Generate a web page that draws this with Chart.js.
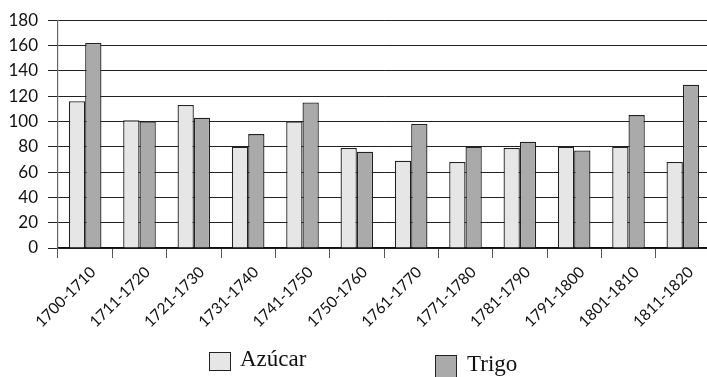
<!DOCTYPE html>
<html>
<head>
<meta charset="utf-8">
<script src="https://cdn.jsdelivr.net/npm/chart.js@4.4.1/dist/chart.umd.min.js"></script>
<style>
  body { margin: 0; background: #fff; }
  #wrap { position: relative; width: 707px; height: 377px; overflow: hidden; }
  .lg { position: absolute; font-family: "Liberation Serif", serif; font-size: 23px; color: #111; white-space: nowrap; }
  .lg span.box { position: absolute; left: 0; border: 1.5px solid #222; box-sizing: border-box; }
</style>
</head>
<body>
<div id="wrap">
  <canvas id="chart" width="710" height="377"></canvas>
  <div id="legend"></div>
</div>
<script>
const categories = ['1700-1710', '1711-1720', '1721-1730', '1731-1740', '1741-1750', '1750-1760',
  '1761-1770', '1771-1780', '1781-1790', '1791-1800', '1801-1810', '1811-1820'];
const azucar = [116, 101, 113, 80, 100, 79, 69, 68, 79, 80, 80, 68];
const trigo = [162, 100, 103, 90, 115, 76, 98, 80, 84, 77, 105, 129];
const yTicks = [0, 20, 40, 60, 80, 100, 120, 140, 160, 180];

const seriesColors = ['#e6e6e6', '#aaaaaa'];

const chart = new Chart(document.getElementById('chart'), {
  type: 'bar',
  data: {
    labels: categories,
    datasets: [
      { label: 'Azúcar', data: azucar, backgroundColor: seriesColors[0], borderColor: '#222', borderWidth: 1.3 },
      { label: 'Trigo', data: trigo, backgroundColor: seriesColors[1], borderColor: '#222', borderWidth: 1.3 },
    ],
  },
  options: {
    responsive: false,
    animation: false,
    layout: { padding: { top: 17, right: 0, left: 0, bottom: 0 } },
    plugins: { legend: { display: false }, tooltip: { enabled: false } },
    datasets: { bar: { categoryPercentage: 0.6, barPercentage: 1 } },
    scales: {
      x: {
        grid: { drawOnChartArea: false, offset: true, tickLength: 10, color: '#555' },
        border: { color: '#111', width: 1.2 },
        ticks: {
          minRotation: 45, maxRotation: 45, autoSkip: false, labelOffset: 8, padding: 5,
          color: '#111', font: { family: 'Lato', size: 15.5 },
        },
        afterFit: (s) => { s.height = 129; },
      },
      y: {
        min: 0, max: 180,
        afterBuildTicks: (s) => { s.ticks = yTicks.map((v) => ({ value: v })); },
        grid: { color: '#222', tickLength: 10 },
        border: { color: '#666', width: 1.2 },
        ticks: { color: '#111', padding: 10, font: { family: 'Lato', size: 17 } },
        afterFit: (s) => { s.width = 58; },
      },
    },
  },
});

// legend built from the datasets
const legendPos = [
  { x: 209, y: 352, boxW: 22, boxH: 19, textX: 31, textY: 346 },
  { x: 435, y: 355, boxW: 22, boxH: 26, textX: 32, textY: 351 },
];
const legend = document.getElementById('legend');
chart.data.datasets.forEach((ds, i) => {
  const p = legendPos[i];
  const item = document.createElement('div');
  item.className = 'lg';
  item.style.left = p.x + 'px';
  item.style.top = p.y + 'px';
  const box = document.createElement('span');
  box.className = 'box';
  box.style.width = p.boxW + 'px';
  box.style.height = p.boxH + 'px';
  box.style.background = ds.backgroundColor;
  item.appendChild(box);
  const txt = document.createElement('span');
  txt.textContent = ds.label;
  txt.style.position = 'absolute';
  txt.style.left = p.textX + 'px';
  txt.style.top = (p.textY - p.y) + 'px';
  item.appendChild(txt);
  legend.appendChild(item);
});
</script>
</body>
</html>
